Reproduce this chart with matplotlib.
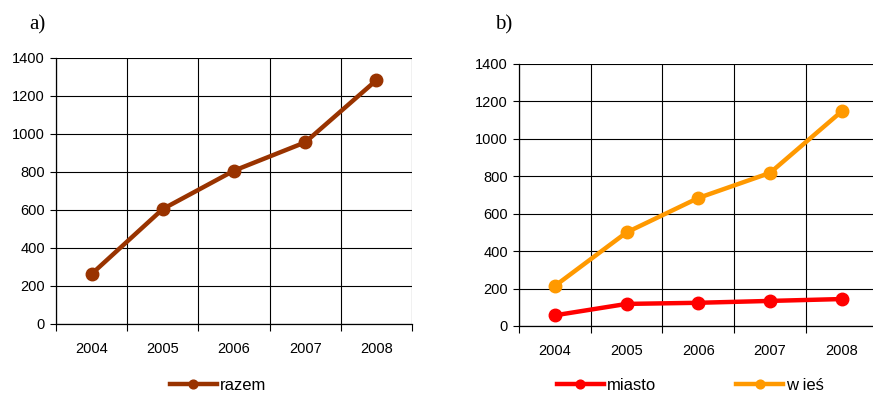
import matplotlib
matplotlib.use("Agg")
import matplotlib.pyplot as plt
from matplotlib.ticker import FixedLocator, MultipleLocator

years = ["2004", "2005", "2006", "2007", "2008"]
razem = [263, 605, 807, 956, 1283]
miasto = [57, 118, 124, 134, 144]
wies = [214, 500, 684, 818, 1147]

plt.rcParams['font.family'] = ['Liberation Sans', 'DejaVu Sans']

fig = plt.figure(figsize=(8.73, 3.94), dpi=100)
axA = fig.add_axes([0.0641, 0.1777, 0.4078, 0.6751])
axB = fig.add_axes([0.5945, 0.1726, 0.4107, 0.6650])

xpos = [i + 0.5 for i in range(len(years))]

def style(ax):
    ax.set_xlim(0, len(years))
    ax.set_ylim(0, 1400)
    ax.yaxis.set_major_locator(MultipleLocator(200))
    ax.xaxis.set_major_locator(FixedLocator(range(len(years) + 1)))
    ax.xaxis.set_minor_locator(FixedLocator(xpos))
    ax.set_xticklabels([])
    ax.set_xticklabels(years, minor=True)
    ax.tick_params(axis='x', which='major', length=5, width=0.8, direction='out', color='black')
    ax.tick_params(axis='x', which='minor', length=0, pad=13, labelsize=10.5)
    ax.tick_params(axis='y', length=4, width=0.8, direction='out', labelsize=10.5, pad=4)
    ax.grid(True, which='major', color='black', linewidth=0.8)
    for s in ['top', 'right']:
        ax.spines[s].set_visible(False)
    for s in ['left', 'bottom']:
        ax.spines[s].set_linewidth(0.9)
        ax.spines[s].set_color('black')
    ax.set_axisbelow(True)

style(axA)
style(axB)

lw = 3.2
ms = 9
lA, = axA.plot(xpos, razem, color='#993300', lw=lw, marker='o', ms=ms, label='razem', clip_on=False)
lM, = axB.plot(xpos, miasto, color='#FF0000', lw=lw, marker='o', ms=ms, label='miasto', clip_on=False)
lW, = axB.plot(xpos, wies, color='#FF9900', lw=lw, marker='o', ms=ms, label='w ieś', clip_on=False)

leg_kw = dict(loc='center left', frameon=False, fontsize=12, handlelength=2.8,
              handletextpad=0.2, markerscale=0.7, borderpad=0, borderaxespad=0)
fig.legend(handles=[lA], bbox_to_anchor=(170/873, 1 - 385/394), **leg_kw)
fig.legend(handles=[lM, lW], bbox_to_anchor=(557/873, 1 - 385/394), ncol=2,
           columnspacing=4.8, **leg_kw)

fig.text(29/873, 1 - 25/394, 'a)', family=['Liberation Serif'], fontsize=15, va='center', ha='left')
fig.text(495/873, 1 - 25/394, 'b)', family=['Liberation Serif'], fontsize=15, va='center', ha='left')

fig.savefig('out.png', dpi=100)
